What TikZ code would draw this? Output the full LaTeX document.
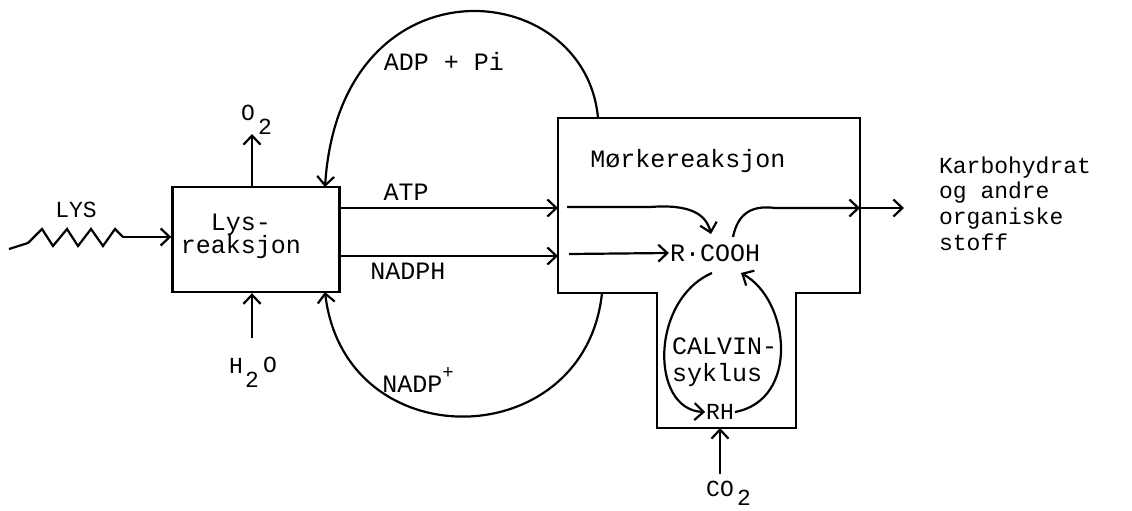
\documentclass[tikz,border=0pt]{standalone}
\usepackage{fontspec}
\setmonofont{Liberation Mono}
\usetikzlibrary{arrows.meta}
\begin{document}
\begin{tikzpicture}[x=1pt,y=-1pt,line width=2.2pt,
  tip/.style={-{Straight Barb[length=9pt,width=17pt,line width=2.2pt]}},
  txt/.style={font=\fontsize{25}{23}\selectfont\ttfamily,inner sep=0pt},
  smalltxt/.style={font=\fontsize{23}{25.5}\selectfont\ttfamily,inner sep=0pt},
  sub/.style={font=\fontsize{23}{23}\selectfont\ttfamily,inner sep=0pt},
  boxline/.style={draw,line width=2.4pt}]
\useasboundingbox (0,0) rectangle (1132,511);

% ---- light reaction box
\node[boxline,minimum width=167pt,minimum height=105pt,inner sep=0pt] (lys) at (256,239.5) {};
\node[txt,anchor=base] (lys1) at (241,230) {Lys-};
\node[txt,anchor=base] (lys2) at (241,253) {reaksjon};

% ---- light input (zigzag)
\coordinate (z0) at (9,249);
\coordinate (z1) at (123,237);
\node[smalltxt] (lystxt) at (76,210) {LYS};
\draw (z0) -- (28,243) -- (42,229) -- (53,246) -- (67,229) -- (78,246) -- (91,229) -- (103,246) -- (115,229) -- (z1);
\draw[tip] (z1) -- (lys.west|-z1);

% ---- O2 and H2O
\coordinate (o2end) at (252,134);
\draw[tip] (lys.north-|o2end) -- (o2end);
\node[sub] (o2O) at (248,113) {O};
\node[sub] (o2s) at (265,127) {2};
\coordinate (h2ostart) at (252,338);
\draw[tip] (h2ostart) -- (lys.south-|h2ostart);
\node[sub] (h2oH) at (236,366) {H};
\node[sub] (h2os) at (252,380) {2};
\node[sub] (h2oO) at (270,365) {O};

% ---- dark reaction box (T shape)
\draw[boxline] (558,118) -- (860,118) -- (860,293) -- (796,293) -- (796,428)
  -- (657,428) -- (657,293) -- (558,293) -- cycle;
\node[txt] (mork) at (688,161) {Mørkereaksjon};
\coordinate (mATP) at (558,208);
\coordinate (mNADPH) at (558,256);
\coordinate (mtop) at (598,118);
\coordinate (mbot) at (602,293);
\coordinate (mout) at (860,208);
\coordinate (mco2) at (720,428);

% ---- ATP / NADPH
\node[txt] (atp) at (406,192) {ATP};
\node[txt] (nadph) at (408,271) {NADPH};
\draw[tip] (lys.east|-mATP) -- (mATP);
\draw[tip] (lys.east|-mNADPH) -- (mNADPH);

% ---- ADP + Pi and NADP+
\coordinate (lysADP) at (325,187);
\coordinate (lysNADP) at (325,292);
\draw[tip] (mtop) .. controls (585,-25) and (340,-45) .. (lysADP);
\node[txt] (adp) at (444,61) {ADP + Pi};
\draw[tip] (mbot) .. controls (585,455) and (345,460) .. (lysNADP);
\node[txt] (nadp) at (418,380) {NADP\raisebox{0.55em}{\fontsize{19}{19}\selectfont +}};

% ---- inside dark reaction
\node[txt] (rcooh) at (715,253) {R·COOH};
\coordinate (a0) at (567,207);
\draw[tip] (a0) -- (650,207) .. controls (690,204) and (706,214) .. (711,234);
\coordinate (n0) at (569,254);
\draw[tip] (n0) -- (rcooh.west);
\coordinate (o0) at (733,237);
\draw[tip] (o0) .. controls (738,213) and (752,205) .. (775,208) -- (mout);
\coordinate (outend) at (904,208);
\draw[tip] (mout) -- (outend);

\node[smalltxt,anchor=base west] (k1) at (938,173) {Karbohydrat};
\node[smalltxt,anchor=base west] (k2) at (938,198) {og andre};
\node[smalltxt,anchor=base west] (k3) at (938,224) {organiske};
\node[smalltxt,anchor=base west] (k4) at (938,250) {stoff};

% ---- Calvin cycle
\node[txt,anchor=base west] (cal1) at (671,354) {CALVIN-};
\node[txt,anchor=base west] (cal2) at (671,381) {syklus};
\node[sub] (rh) at (720,412) {RH};
\coordinate (c0) at (712,273);
\draw[tip] (c0) .. controls (650,300) and (650,410) .. (rh.west);
\coordinate (c1) at (741,273);
\draw[tip] (rh.east) .. controls (800,400) and (790,300) .. (c1);

% ---- CO2
\coordinate (co2s) at (720,474);
\draw[tip] (co2s) -- (mco2);
\node[sub] (co2) at (720,489) {CO};
\node[sub] (co2s2) at (744,498) {2};
\end{tikzpicture}
\end{document}
